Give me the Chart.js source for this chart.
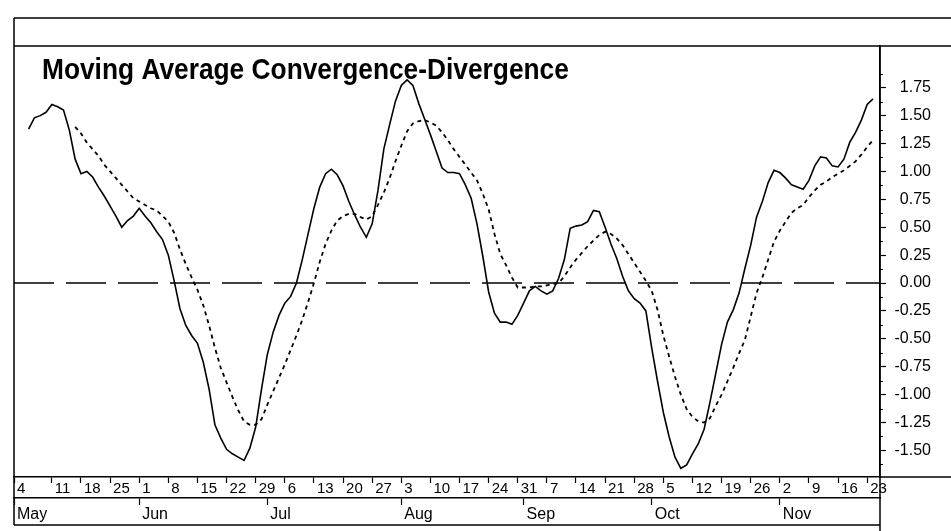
<!DOCTYPE html>
<html>
<head>
<meta charset="utf-8">
<title>Moving Average Convergence-Divergence</title>
<script src="https://cdn.jsdelivr.net/npm/chart.js@4.4.1/dist/chart.umd.min.js"></script>
<style>
  html, body { margin: 0; padding: 0; background: #fff; }
  canvas { display: block; }
</style>
</head>
<body>
<canvas id="macdChart" width="951" height="531"></canvas>
<script>
const chartTitle = 'Moving Average Convergence-Divergence';

// x = trading day index, 0 = Mon 4 May
const macdFirstDay = 1;
const macdValues = [
    1.38, 1.48, 1.50, 1.53, 1.60, 1.58, 1.55, 1.37, 1.11, 0.98,
    1.00, 0.95, 0.86, 0.78, 0.69, 0.60, 0.50, 0.56, 0.60, 0.67,
    0.60, 0.54, 0.46, 0.39, 0.25, 0.02, -0.23, -0.38, -0.47, -0.54,
    -0.71, -0.95, -1.27, -1.39, -1.49, -1.53, -1.56, -1.59, -1.48, -1.29,
    -0.95, -0.64, -0.44, -0.29, -0.18, -0.12, 0.00, 0.21, 0.44, 0.67,
    0.86, 0.98, 1.02, 0.97, 0.87, 0.73, 0.61, 0.50, 0.41, 0.53,
    0.83, 1.20, 1.42, 1.63, 1.77, 1.82, 1.77, 1.61, 1.47, 1.33,
    1.18, 1.03, 0.99, 0.99, 0.98, 0.88, 0.76, 0.53, 0.24, -0.08,
    -0.27, -0.35, -0.35, -0.37, -0.29, -0.18, -0.07, -0.03, -0.07, -0.10,
    -0.07, 0.04, 0.21, 0.49, 0.51, 0.52, 0.55, 0.65, 0.64, 0.50,
    0.35, 0.22, 0.06, -0.07, -0.14, -0.18, -0.25, -0.58, -0.88, -1.16,
    -1.38, -1.56, -1.66, -1.63, -1.53, -1.44, -1.31, -1.07, -0.81, -0.55,
    -0.35, -0.24, -0.09, 0.13, 0.34, 0.59, 0.73, 0.90, 1.01, 0.99,
    0.94, 0.88, 0.86, 0.84, 0.92, 1.05, 1.13, 1.12, 1.05, 1.04,
    1.11, 1.26, 1.35, 1.46, 1.60, 1.65
];
const signalFirstDay = 9;
const signalValues = [
    1.40, 1.34,
    1.26, 1.20, 1.14, 1.06, 1.00, 0.94, 0.88, 0.82, 0.76, 0.73,
    0.70, 0.67, 0.65, 0.60, 0.55, 0.45, 0.30, 0.17, 0.05, -0.06,
    -0.20, -0.38, -0.58, -0.76, -0.89, -1.02, -1.14, -1.24, -1.27, -1.27,
    -1.22, -1.09, -0.97, -0.85, -0.73, -0.60, -0.47, -0.33, -0.17, 0.00,
    0.19, 0.35, 0.47, 0.56, 0.60, 0.62, 0.62, 0.59, 0.57, 0.60,
    0.70, 0.81, 0.94, 1.09, 1.23, 1.36, 1.43, 1.45, 1.46, 1.44,
    1.41, 1.35, 1.28, 1.20, 1.13, 1.06, 0.99, 0.92, 0.80, 0.66,
    0.44, 0.26, 0.16, 0.05, -0.04, -0.04, -0.04, -0.03, -0.03, -0.02,
    -0.01, 0.00, 0.06, 0.14, 0.21, 0.27, 0.33, 0.38, 0.43, 0.46,
    0.44, 0.40, 0.34, 0.26, 0.18, 0.10, 0.02, -0.07, -0.24, -0.47,
    -0.66, -0.84, -1.00, -1.13, -1.20, -1.24, -1.25, -1.21, -1.10, -1.00,
    -0.88, -0.76, -0.63, -0.51, -0.30, -0.09, 0.05, 0.21, 0.37, 0.47,
    0.55, 0.63, 0.67, 0.70, 0.77, 0.83, 0.88, 0.91, 0.95, 0.98,
    1.01, 1.05, 1.09, 1.15, 1.22, 1.28
];

const dayMin = -1.5;
const dayMax = 147.2;
const valueMin = -1.738;
const valueMax = 2.124;

const weekTickDays = [dayMin, 5, 10, 15, 20, 25, 30, 35, 40, 45, 50, 55, 60, 65, 70,
    75, 80, 85, 90, 95, 100, 105, 110, 115, 120, 125, 130, 135, 140, 145];
const weekLabels = ['4', '11', '18', '25', '1', '8', '15', '22', '29', '6', '13', '20', '27',
    '3', '10', '17', '24', '31', '7', '14', '21', '28', '5', '12', '19', '26', '2', '9', '16', '23'];
const monthTickDays = [dayMin, 20, 42, 65, 86, 108, 130];
const monthLabels = ['May', 'Jun', 'Jul', 'Aug', 'Sep', 'Oct', 'Nov'];
const yTickValues = [-1.5, -1.25, -1, -0.75, -0.5, -0.25, 0, 0.25, 0.5, 0.75, 1, 1.25, 1.5, 1.75];
const zeroLineDays = [dayMin, dayMax];

const fontFamily = '"Liberation Sans", Arial, sans-serif';

function toPoints(first, values) {
    return values.map((v, i) => ({ x: first + i, y: v }));
}

// frame, title and the short minor ticks on the value axis
const framePlugin = {
    id: 'frame',
    beforeDatasetsDraw(chart) {
        const c = chart.ctx;
        c.save();
        c.translate(42, 79);
        c.scale(0.877, 1);
        c.fillStyle = '#000';
        c.font = 'bold 30px ' + fontFamily;
        c.textBaseline = 'alphabetic';
        c.fillText(chartTitle, 0, 0);
        c.restore();
    },
    afterDraw(chart) {
        const c = chart.ctx;
        const area = chart.chartArea;
        const y = chart.scales.y;
        c.save();
        c.strokeStyle = '#000';
        c.lineWidth = 1.5;
        c.beginPath();
        c.moveTo(area.left, 18); c.lineTo(951, 18);
        c.moveTo(area.left, area.top); c.lineTo(951, area.top);
        c.moveTo(area.left, 18); c.lineTo(area.left, 525);
        c.moveTo(area.right, area.top); c.lineTo(area.right, 531);
        c.moveTo(area.right, area.bottom); c.lineTo(951, area.bottom);
        c.moveTo(area.left, 525); c.lineTo(area.right, 525);
        c.stroke();

        c.lineWidth = 1;
        c.beginPath();
        const minor = yTickValues.map(v => v + 0.125).concat([yTickValues[0] - 0.125]);
        minor.forEach(v => {
            if (v < valueMin || v > valueMax) return;
            const py = Math.round(y.getPixelForValue(v)) + 0.5;
            c.moveTo(area.right, py);
            c.lineTo(area.right + 3, py);
        });
        c.stroke();
        c.restore();
    }
};

let ctx = document.getElementById('macdChart').getContext('2d');
let macdChart = new Chart(ctx, {
    type: 'line',
    data: {
        datasets: [{
            label: 'MACD',
            data: toPoints(macdFirstDay, macdValues),
            borderColor: '#000',
            borderWidth: 1.6,
            pointRadius: 0,
            tension: 0
        }, {
            label: 'Signal',
            data: toPoints(signalFirstDay, signalValues),
            borderColor: '#000',
            borderWidth: 1.8,
            borderDash: [4, 4],
            pointRadius: 0,
            tension: 0
        }, {
            label: 'Zero',
            data: zeroLineDays.map(d => ({ x: d, y: 0 })),
            borderColor: '#000',
            borderWidth: 1.5,
            borderDash: [40, 12],
            pointRadius: 0
        }]
    },
    options: {
        responsive: false,
        animation: false,
        parsing: false,
        layout: { padding: { left: 14, top: 46, right: 20, bottom: 6 } },
        plugins: {
            legend: { display: false },
            tooltip: { enabled: false },
            title: { display: false }
        },
        scales: {
            x: {
                type: 'linear',
                position: 'bottom',
                weight: 0,
                min: dayMin,
                max: dayMax,
                afterBuildTicks: s => { s.ticks = weekTickDays.map(v => ({ value: v })); },
                afterFit: s => { s.height = 21; },
                ticks: {
                    autoSkip: false,
                    maxRotation: 0,
                    align: 'start',
                    labelOffset: 3,
                    padding: -3,
                    color: '#000',
                    font: { family: fontFamily, size: 15 },
                    callback: (v, i) => weekLabels[i]
                },
                grid: { drawOnChartArea: false, tickLength: 6, color: '#000', tickWidth: 1.2 },
                border: { color: '#000', width: 1.5 }
            },
            x2: {
                type: 'linear',
                position: 'bottom',
                weight: 1,
                min: dayMin,
                max: dayMax,
                afterBuildTicks: s => { s.ticks = monthTickDays.map(v => ({ value: v })); },
                afterFit: s => { s.height = 27; },
                ticks: {
                    autoSkip: false,
                    maxRotation: 0,
                    align: 'start',
                    labelOffset: 3,
                    padding: 0,
                    color: '#000',
                    font: { family: fontFamily, size: 16 },
                    callback: (v, i) => monthLabels[i]
                },
                grid: { drawOnChartArea: false, tickLength: 7, color: '#000', tickWidth: 1.2 },
                border: { color: '#000', width: 1.5 }
            },
            y: {
                position: 'right',
                min: valueMin,
                max: valueMax,
                afterBuildTicks: s => { s.ticks = yTickValues.map(v => ({ value: v })); },
                afterFit: s => { s.width = 51; },
                ticks: {
                    crossAlign: 'far',
                    padding: 8,
                    color: '#000',
                    font: { family: fontFamily, size: 16 },
                    callback: v => v.toFixed(2)
                },
                grid: { drawOnChartArea: false, tickLength: 6, color: '#000', tickWidth: 1.2 },
                border: { color: '#000', width: 1.5 }
            }
        }
    },
    plugins: [framePlugin]
});
</script>
</body>
</html>
